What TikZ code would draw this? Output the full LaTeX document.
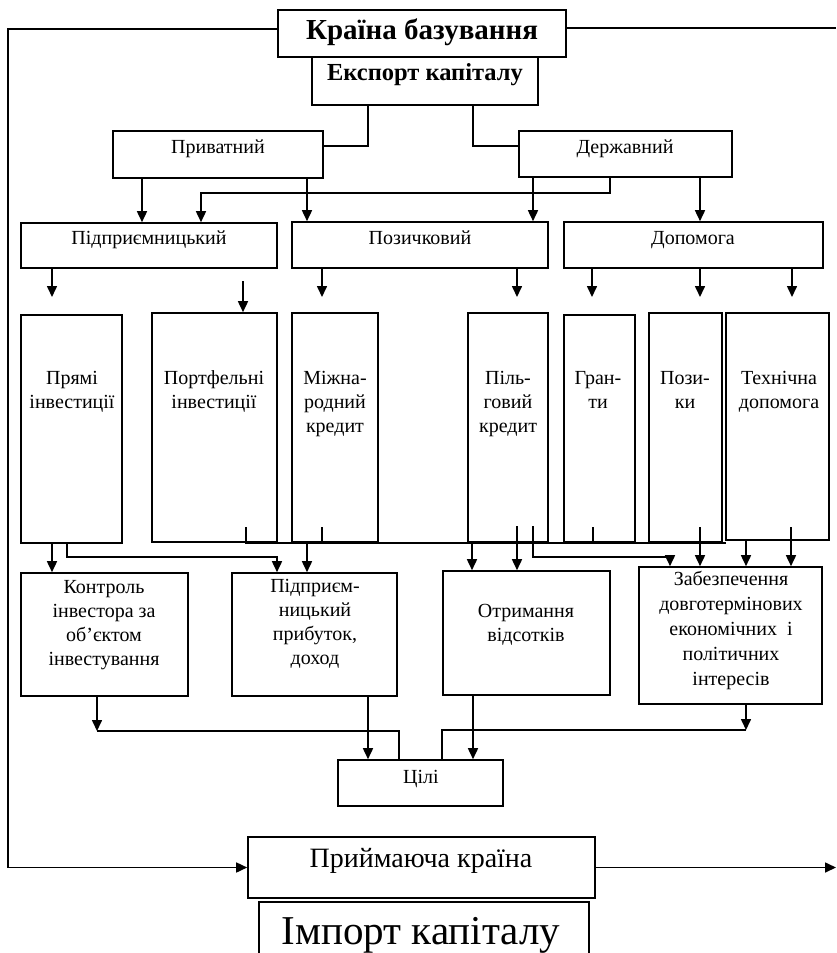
\documentclass[tikz,border=0pt]{standalone}
\usepackage{fontspec}
\setmainfont{Liberation Serif}
\usetikzlibrary{arrows.meta,fit}
\begin{document}
\begin{tikzpicture}[x=1pt,y=-1pt,
  box/.style={draw,line width=1.6pt,inner sep=0pt,rectangle},
  ln/.style={line width=1.6pt},
  arr/.style={line width=1.6pt,-{Triangle[width=10pt,length=11pt]}},
  txt/.style={inner sep=0pt,align=center,anchor=base,font=\fontsize{20}{24.3}\selectfont},
  big/.style={inner sep=0pt,anchor=base}]
\fill[white] (0,0) rectangle (836,953);
\useasboundingbox (0,0) rectangle (836,953);
% boxes
\node[box,fit={(278,10) (566,57)}] (kraina) {};
\node[box,fit={(312,57) (538,105)}] (eksport) {};
\node[box,fit={(113,131) (323,178)}] (privat) {};
\node[box,fit={(519,131) (732,177)}] (derzh) {};
\node[box,fit={(21,223) (277,268)}] (pidpr) {};
\node[box,fit={(292,222) (548,268)}] (pozych) {};
\node[box,fit={(564,222) (823,268)}] (dopom) {};
\node[box,fit={(21,315) (122,543)}] (pryami) {};
\node[box,fit={(152,313) (277,542)}] (portf) {};
\node[box,fit={(292,313) (378,542)}] (mizhn) {};
\node[box,fit={(468,313) (548,542)}] (pilg) {};
\node[box,fit={(564,315) (635,542)}] (granty) {};
\node[box,fit={(649,313) (722,542)}] (pozyky) {};
\node[box,fit={(726,313) (829,540)}] (tekhn) {};
\node[box,fit={(21,573) (188,696)}] (kontrol) {};
\node[box,fit={(232,573) (397,696)}] (prybut) {};
\node[box,fit={(443,571) (610,695)}] (otrym) {};
\node[box,fit={(639,567) (822,704)}] (zabezp) {};
\node[box,fit={(338,760) (503,806)}] (tsili) {};
\node[box,fit={(248,837) (595,898)}] (pryim) {};
\node[box,fit={(259,902) (589,970)}] (import) {};
% texts (anchor base = last line)
\node[big,font=\bfseries\fontsize{29}{32}\selectfont] (tkraina) at (422,39) {Країна базування};
\node[big,font=\bfseries\fontsize{24.5}{27}\selectfont] (teksport) at (425,80) {Експорт капіталу};
\node[txt] (tprivat) at (218,153) {Приватний};
\node[txt] (tderzh) at (625,153) {Державний};
\node[txt] (tpidpr) at (149,244) {Підприємницький};
\node[txt] (tpozych) at (420,244) {Позичковий};
\node[txt] (tdopom) at (693,244) {Допомога};
\node[txt] (tpryami) at (72,408.3) {Прямі\\інвестиції};
\node[txt] (tportf) at (214,408.3) {Портфельні\\інвестиції};
\node[txt] (tmizhn) at (335,432.6) {Міжна-\\родний\\кредит};
\node[txt] (tpilg) at (508,432.6) {Піль-\\говий\\кредит};
\node[txt] (tgranty) at (598,408.3) {Гран-\\ти};
\node[txt] (tpozyky) at (685,408.3) {Пози-\\ки};
\node[txt] (ttekhn) at (779,408.3) {Технічна\\допомога};
\node[txt] (tkontrol) at (104,665.9) {Контроль\\інвестора за\\об’єктом\\інвестування};
\node[txt] (tprybut) at (315,664.9) {Підприєм-\\ницький\\прибуток,\\доход};
\node[txt] (totrym) at (526,641.3) {Отримання\\відсотків};
\node[txt,font=\fontsize{20}{25}\selectfont] (tzabezp) at (731,685) {Забезпечення\\довготермінових\\економічних\ \ і\\політичних\\інтересів};
\node[txt] (ttsili) at (421,783) {Цілі};
\node[big,font=\fontsize{28}{31}\selectfont] (tpryim) at (421,867) {Приймаюча країна};
\node[big,font=\fontsize{41}{45}\selectfont] (timport) at (421,944) {Імпорт капіталу};
% free ends
\coordinate (topR) at (836,28);
\coordinate (botR) at (836,867.5);
\coordinate (f1) at (52,297);
\coordinate (f2) at (243,281);
\coordinate (f3) at (322,297);
\coordinate (f4) at (517,297);
\coordinate (f5) at (592,297);
\coordinate (f6) at (700,297);
\coordinate (f7) at (792,297);
\coordinate (k1) at (246,527);
\coordinate (k2) at (322,527);
\coordinate (k3) at (593,527);
\coordinate (k4) at (517,526);
\coordinate (k5) at (533,526);
\coordinate (k6) at (700,527);
\coordinate (k7) at (791,527);
% outer loop
\draw[arr] (kraina.west |- 0,29) -- (8,29) -- (8,0 |- pryim.west) -- (pryim.west);
\draw[ln] (kraina.east |- topR) -- (topR);
\draw[arr] (pryim.east) -- (botR);
% export to types
\draw[ln] (368,0 |- eksport.south) |- (privat.east |- 0,146);
\draw[ln] (473,0 |- eksport.south) |- (derzh.west |- 0,146);
% level 2
\draw[arr] (142,0 |- privat.south) -- (142,0 |- pidpr.north);
\draw[arr] (307,0 |- privat.south) -- (307,0 |- pozych.north);
\draw[arr] (610,0 |- derzh.south) |- (201,193) -- (201,0 |- pidpr.north);
\draw[arr] (533,0 |- derzh.south) -- (533,0 |- pozych.north);
\draw[arr] (700,0 |- derzh.south) -- (700,0 |- dopom.north);
% floating arrows
\draw[arr] (f1 |- pidpr.south) -- (f1);
\draw[arr] (f2) -- (f2 |- portf.north);
\draw[arr] (f3 |- pozych.south) -- (f3);
\draw[arr] (f4 |- pozych.south) -- (f4);
\draw[arr] (f5 |- dopom.south) -- (f5);
\draw[arr] (f6 |- dopom.south) -- (f6);
\draw[arr] (f7 |- dopom.south) -- (f7);
% row 3 to row 4
\draw[arr] (52,0 |- pryami.south) -- (52,0 |- kontrol.north);
\draw[arr] (67,0 |- pryami.south) |- (277,557) -- (277,0 |- prybut.north);
\draw[ln] (k1) -- (k1 |- portf.south) -- (726,0 |- portf.south);
\draw[ln] (k2) -- (k2 |- mizhn.south);
\draw[ln] (k3) -- (k3 |- granty.south);
\draw[arr] (307,0 |- portf.south) -- (307,0 |- prybut.north);
\draw[arr] (472,0 |- pilg.south) -- (472,0 |- otrym.north);
\draw[arr] (k4) -- (k4 |- otrym.north);
\draw[arr] (k5) |- (670,557) -- (670,0 |- zabezp.north);
\draw[arr] (k6) -- (k6 |- zabezp.north);
\draw[arr] (746,0 |- tekhn.south) -- (746,0 |- zabezp.north);
\draw[arr] (k7) -- (k7 |- zabezp.north);
% row 4 to goals
\draw[arr] (97,0 |- kontrol.south) -- (97,731);
\draw[ln] (97,731) -| (399,0 |- tsili.north);
\draw[arr] (368,0 |- prybut.south) -- (368,0 |- tsili.north);
\draw[arr] (473,0 |- otrym.south) -- (473,0 |- tsili.north);
\draw[arr] (746,0 |- zabezp.south) -- (746,730);
\draw[ln] (746,730) -| (442,0 |- tsili.north);
\end{tikzpicture}
\end{document}
